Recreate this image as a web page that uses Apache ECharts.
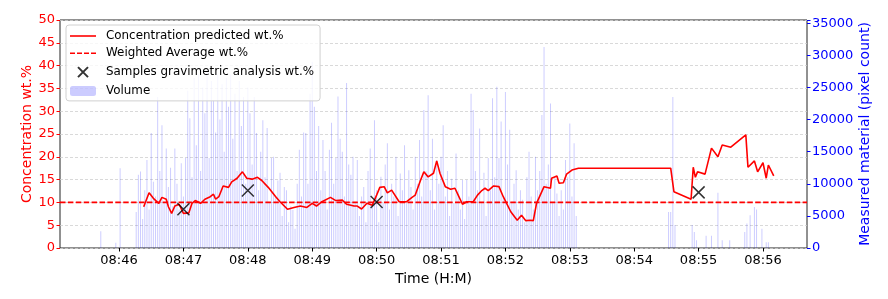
<!DOCTYPE html>
<html>
<head>
<meta charset="utf-8">
<script src="https://cdn.jsdelivr.net/npm/echarts@6/dist/echarts.min.js"></script>
<style>html,body{margin:0;padding:0;background:#fff}#c{width:888px;height:299px}</style>
</head>
<body>
<div id="c"></div>
<script>
// time values are seconds after 08:45:00
const concTimes = [83,88,92,97,100,104,106,109,112,116,120,125,128,131,136,140,145,148,150,153,157,162,165,170,175,179,184,189,193,199,206,210,217,223,229,235,240,244,249,257,262,268,272,279,282,286,291,296,300,303,307,310,314,321,328,333,336,341,344,348,353,356,359,364,369,373,376,380,384,390,394,398,401,404,409,414,418,425,431,435,439,443,446,449,456,462,463,468,470,474,477,482,488,574,577,593,595,597,599,606,612,618,622,630,644,646,652,655,660,663,665,670];
const concValues = [9.05,12.1,10.9,9.8,11.1,10.7,9.05,7.6,9.2,9.6,7.6,7.7,9.8,10.4,9.8,10.7,11.25,11.8,10.7,11.25,13.6,13.3,14.5,15.3,16.7,15.3,15.1,15.5,14.8,13.3,11.25,10.15,8.5,8.9,9.2,8.9,9.8,9.2,10.15,11.1,10.4,10.5,9.6,9.2,9.2,8.55,9.8,9.4,11.6,13.3,13.45,12.1,12.7,10.15,10.15,11.1,11.6,14.9,16.7,15.6,16.4,19.1,16.4,13.45,12.9,13.1,11.6,9.6,10.15,10.15,11.6,12.6,13.1,12.6,13.6,13.45,11.25,7.95,6.1,7.2,6.0,6.1,6.0,9.8,13.45,13.1,15.3,15.8,14.2,14.3,16.2,17.1,17.5,17.5,12.35,10.7,17.7,15.5,16.7,16.2,21.9,20.0,22.6,22.1,24.8,17.7,19.1,16.7,18.7,15.3,18.2,15.8];
const weightedAverage = 10;
const sampleTimes = [120,180,300,600];
const sampleValues = [8.5,12.6,10.1,12.2];
const volumeTimes = [43,57,61,
  76,78,80,82,84,86,88,90,92,94,96,98,100,102,104,106,108,110,112,114,116,118,120,122,124,126,128,130,
  132,134,136,138,140,142,144,146,148,150,152,154,156,158,160,162,164,166,168,170,172,174,176,178,180,182,184,186,
  188,190,192,194,196,198,200,202,204,206,208,210,212,214,216,218,220,222,224,226,228,230,232,234,236,238,240,242,
  244,246,248,250,252,254,256,258,260,262,264,266,268,270,272,274,276,278,280,282,284,286,288,290,292,294,296,298,
  300,302,304,306,308,310,312,314,316,318,320,322,324,326,328,330,332,334,336,338,340,342,344,346,348,350,352,354,
  356,358,360,362,364,366,368,370,372,374,376,378,380,382,384,386,388,390,392,394,396,398,400,402,404,406,408,410,
  412,414,416,418,420,422,424,426,428,430,432,434,436,438,440,442,444,446,448,450,452,454,456,458,460,462,464,466,
  468,470,472,474,476,478,480,482,484,486,
  572,574,576,578,594,596,598,607,612,618,622,629,643,645,648,652,654,659,663,665];
const volumeValues = [2600,800,12400,
  5600,11400,11900,4500,9000,13700,6000,17900,10300,8000,23500,12000,19100,7000,15500,9500,12500,6500,15500,10000,6000,13200,8000,14000,24500,20200,11000,26500,
  16000,27000,12000,25000,21000,27500,14000,26000,23000,18000,27000,20000,25500,15000,26500,22000,27000,17000,24000,12000,26000,19000,23500,10000,25000,21000,13000,23500,
  17900,9000,15000,19900,11000,18700,7000,14000,14200,8000,10500,11700,5000,9500,9000,4000,6500,5900,3000,10000,15300,8000,18000,17900,10000,24000,29000,22000,
  12000,19000,9000,16800,12000,6000,15300,19500,10000,14000,23600,17000,15000,8000,25700,13000,11400,14200,7000,13700,5000,8000,9500,4000,12000,15500,7000,19900,
  9000,4000,11100,7000,13000,16300,6000,10000,8000,14200,5000,11600,9000,16000,7000,12100,9500,6000,14200,10000,16800,8000,21500,12000,23800,9000,17000,6000,
  13700,10000,14200,19100,8000,12000,5000,10800,7000,14700,9000,6000,10600,4500,10600,8000,24000,21500,12000,9000,18600,7000,11700,5000,14000,9000,23300,11000,
  25100,14000,19700,8000,24300,13000,18400,7000,10000,12100,6000,9000,7500,4000,11000,15000,8000,6000,14200,9000,12000,20700,31300,10000,13000,22500,7000,11000,
  8500,5000,9000,6000,13700,11000,19400,8000,16300,5000,
  5600,5600,23500,3600,3600,2500,1200,1900,1900,8600,1200,1200,2500,3800,5100,6400,6000,3000,900,900];
const xTicks = [60,120,180,240,300,360,420,480,540,600,660];

const FONT = 'DejaVu Sans';
const chart = echarts.init(document.getElementById('c'), null, {renderer:'canvas'});
const zip = (a,b) => a.map((t,i)=>[t,b[i]]);
chart.setOption({
  animation:false,
  textStyle:{fontFamily:FONT},
  grid:{left:60,right:81,top:20,bottom:51,show:true,borderColor:'#222',borderWidth:1,backgroundColor:'transparent'},
  legend:{
    orient:'vertical',left:66,top:25,
    padding:[5,6,4,4],itemGap:5.3,itemWidth:26,itemHeight:10,
    backgroundColor:'rgba(255,255,255,0.8)',borderColor:'#d0d0d0',borderWidth:1,borderRadius:3,
    textStyle:{fontFamily:FONT,fontSize:11.9,color:'#000',padding:[0,0,0,5]},
    data:[
      {name:'Concentration predicted wt.%',icon:'path://M0,0L26,0L26,1.6L0,1.6Z'},
      {name:'Weighted Average wt.%',icon:'path://M0,0h5v1.6h-5z M7,0h5v1.6h-5z M14,0h5v1.6h-5z M21,0h5v1.6h-5z'},
      {name:'Samples gravimetric analysis wt.%'},
      {name:'Volume'}
    ]
  },
  xAxis:{
    type:'value',min:5,max:701,
    name:'Time (H:M)',nameLocation:'middle',nameGap:23,
    nameTextStyle:{fontFamily:FONT,fontSize:14,color:'#000'},
    axisLine:{show:false},
    axisTick:{show:true,length:3.5,lineStyle:{color:'#000'},customValues:xTicks},
    axisLabel:{fontFamily:FONT,fontSize:13,color:'#000',margin:6,customValues:xTicks,
      formatter:v=>{const m=45+Math.round(v/60);return '08:'+String(m).padStart(2,'0');}},
    splitLine:{show:false}
  },
  yAxis:[{
    type:'value',min:0,max:50,interval:5,position:'left',
    name:'Concentration wt.%',nameLocation:'middle',nameGap:26,nameRotate:90,nameMoveOverlap:false,
    nameTextStyle:{fontFamily:FONT,fontSize:14,color:'#ff0000'},
    axisLine:{show:false},
    axisTick:{show:true,length:3.5,lineStyle:{color:'#ff0000'}},
    axisLabel:{fontFamily:FONT,fontSize:13,color:'#ff0000',margin:5},
    splitLine:{show:true,lineStyle:{color:'#cfcfcf',type:[3,2],width:0.8}}
  },{
    type:'value',min:0,max:35500,interval:5000,position:'right',
    name:'Measured material (pixel count)',nameLocation:'middle',nameGap:51,nameRotate:90,nameMoveOverlap:false,
    nameTextStyle:{fontFamily:FONT,fontSize:14,color:'#0000ff'},
    axisLine:{show:false},
    axisTick:{show:true,length:3.5,lineStyle:{color:'#0000ff'}},
    axisLabel:{fontFamily:FONT,fontSize:13,color:'#0000ff',margin:5,
      showMaxLabel:true,formatter:v=> v<=35000 ? String(v) : ''},
    splitLine:{show:false}
  }],
  series:[{
    name:'Volume',type:'bar',yAxisIndex:1,barWidth:1,barGap:'-100%',
    itemStyle:{color:'rgba(0,0,255,0.2)'},
    data:zip(volumeTimes,volumeValues),z:1
  },{
    name:'Weighted Average wt.%',type:'line',symbol:'none',
    lineStyle:{color:'#ff0000',width:1.6,type:[5.5,2.4]},itemStyle:{color:'#ff0000'},
    data:[[5,weightedAverage],[701,weightedAverage]],z:3
  },{
    name:'Concentration predicted wt.%',type:'line',symbol:'none',
    lineStyle:{color:'#ff0000',width:1.6},itemStyle:{color:'#ff0000'},
    data:zip(concTimes,concValues),z:4
  },{
    name:'Samples gravimetric analysis wt.%',type:'scatter',
    symbol:'path://M0,0L10,10M10,0L0,10',symbolSize:12,
    itemStyle:{color:'none',borderColor:'#000',borderWidth:1.5},
    data:zip(sampleTimes,sampleValues),z:5
  }]
});
</script>
</body>
</html>
